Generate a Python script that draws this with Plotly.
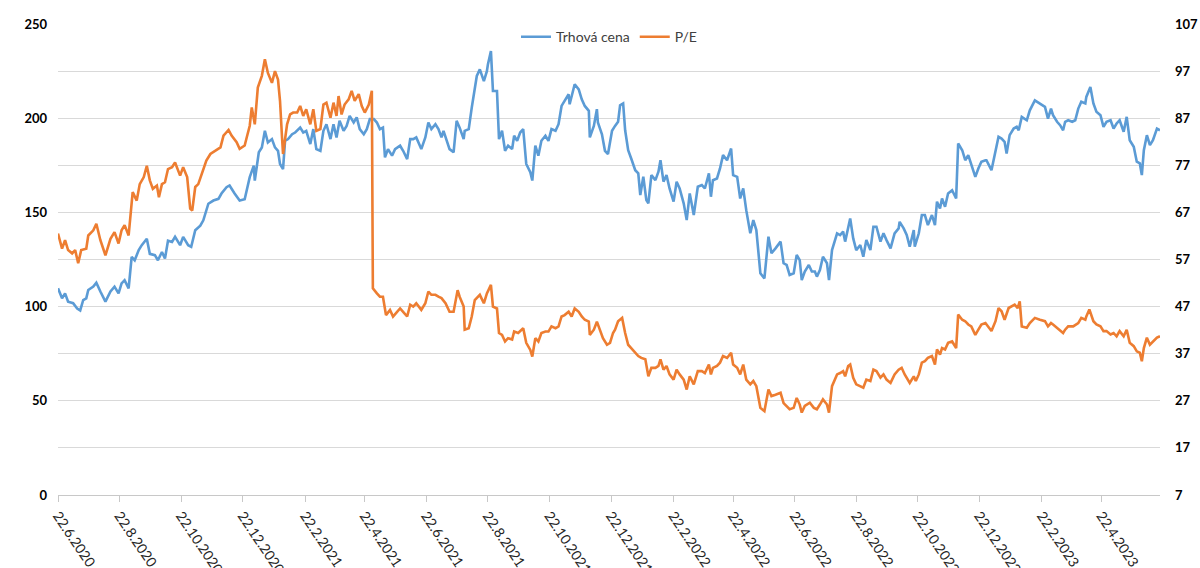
import pandas as pd
import plotly.graph_objects as go

START = pd.Timestamp("2020-06-22")

# Trhová cena (left axis): days since 22.6.2020 and values
price_day = [0,4,7,10,15,19,22,25,28,30,35,38,42,47,52,56,60,63,66,70,73,76,80,83,88,91,96,99,103,106,
             109,113,116,121,124,129,132,136,141,144,149,154,159,162,167,170,175,180,185,
             187,190,194,195,199,202,205,208,212,215,218,220,223,225,228,232,235,240,243,246,250,253,256,260,263,266,
             270,273,276,279,283,286,289,293,296,299,303,306,309,313,316,319,322,324,327,331,334,339,342,346,349,352,
             355,360,364,367,
             370,374,377,380,382,385,388,392,395,398,402,403,407,410,413,415,418,420,422,425,426,429,431,435,437,440,
             443,446,450,452,455,458,461,464,468,470,473,476,479,483,486,489,493,496,499,502,506,507,511,512,516,519,
             522,526,527,531,534,535,539,542,545,549,552,
             555,557,560,562,565,568,572,575,577,580,583,585,588,592,595,597,600,603,606,610,613,616,620,623,626,630,
             634,638,641,645,647,649,653,656,659,663,667,669,673,676,679,682,686,689,692,696,700,704,707,711,716,719,
             722,725,729,732,735,
             737,740,744,747,750,752,755,758,762,764,767,772,775,778,780,783,785,788,791,795,798,801,805,808,811,815,
             818,821,825,829,833,834,838,841,844,848,849,853,856,859,862,866,869,871,874,876,879,882,886,890,892,896,
             899,902,905,909,912,915,919,
             920,925,929,932,935,938,940,943,947,950,952,955,960,963,968,973,978,981,984,986,990,993,996,998,1001,1005,
             1008,1011,1014,1018,1019,1023,1026,1029,1033,1036,1039,1043,1046,1049,1052,1056,1059,1062,1066,1069,1072,
             1074,1076,1079,1082,1085,1089,1092]
price = [109.7,104.4,107,102.6,101.8,99,98,103.5,104.4,108.8,110.6,112.7,108,102.6,108,110.6,107,112.3,114,109.7,
         126.4,124.6,130,132.6,136,128,127.3,124.6,129,125.5,135,134.3,137,132.6,137,132.6,131.7,140.5,143,145.8,
         154.6,156.3,157.2,160,163.4,164.3,160,156.3,157,
         161.6,168.7,174.8,166.9,181.9,184.5,193.3,187.1,188.9,184.5,182.7,175.7,173,188,188.9,191.5,192.4,195,192.4,
         193.3,186.3,194.2,183.6,182.7,193.3,196.8,188.9,196.8,189.8,198.6,193.3,195.9,201.2,197.7,200.4,194.2,191.5,
         194.2,199.5,199.5,197.7,194.2,195,179.2,183.6,180.1,183.6,185.4,182.7,178.3,188.9,188.9,189.8,183.6,189.8,197.7,
         194.2,196.8,194.2,189.8,193.3,188,183.6,181.9,198.6,195,188.9,193.3,194.2,205.6,214.4,222.4,225.9,223.2,219.7,
         225,228.5,235.6,214.4,214.4,188.9,193.3,182.7,185.4,183.6,190.7,188,192.4,194.2,175.7,171.3,166.9,185.4,180.1,
         188,190.7,188,194.2,193.3,196.8,206.5,209.2,212.7,207.4,215.3,218,215.3,210,206.5,203.9,189.8,195.9,204.8,
         197.7,191.5,182.7,181,193.3,195.9,
         198.1,206.9,207.8,193.6,183,178.6,172.4,170.7,159.2,168.9,156.5,154.8,169.8,167.1,171.6,177.7,166.3,169.8,
         162.7,155.7,166.3,162.7,154.8,145.9,160.1,148.6,163.6,164.5,162.7,170.7,158.3,167.1,168,173.3,180.4,177.7,
         183.9,169.8,168.9,157.4,162.7,151.2,138.9,145.9,140.6,117.7,115,137.1,128.3,130.9,134.5,123,122.1,116.8,
         117.7,127.4,124.7,
         114.1,118.6,122.1,118.6,118.6,115.9,119.4,126.5,123,114.1,130,138.9,138,139.8,134.5,141.5,146.8,136.2,130,
         132.7,126.5,135.3,130,142.4,142.4,134.5,138.9,135.3,130.9,138.9,141.5,145,141.5,138,131.8,140.6,131.8,138.9,
         148.6,148.6,143.3,148.6,143.3,155.7,152.1,157.4,153,160.1,161.8,157.4,186.6,183,177.7,180.4,175.1,168.9,
         173.3,176.9,177.7,
         177.7,172.4,183,190.1,189.2,187.5,181.3,191,194.5,195.4,193.6,200.7,198.9,204.2,209.5,207.8,206,199.8,205.1,
         201.6,198.1,196.3,193.6,198.1,198.9,198.1,198.9,205.1,208.7,207.8,211.3,216.6,207.8,203.4,201.6,195.4,198.1,
         198.9,194.5,197.2,198.9,192.8,200.7,188.3,184.8,176.9,176,169.8,183,191,185.7,188.3,194.5,193.6]

# P/E (right axis): days since 22.6.2020 and values
pe_day = [0,4,7,10,14,17,20,23,28,30,35,38,42,47,52,56,60,63,66,70,74,78,81,85,88,91,94,98,100,103,
          106,109,113,116,121,124,128,131,133,136,139,142,147,151,156,161,164,169,172,177,180,185,
          187,190,192,195,198,202,205,208,212,215,218,220,222,223,227,230,233,237,240,243,246,250,253,256,260,263,
          266,270,273,276,278,281,284,288,291,294,298,301,304,308,311,312,316,319,322,325,329,332,336,339,342,346,
          349,352,355,360,364,367,
          370,374,377,380,384,388,392,396,398,402,403,407,410,413,418,422,425,429,431,435,437,440,443,446,450,452,
          456,461,464,468,470,473,476,479,483,486,489,493,496,499,502,506,509,512,516,519,522,526,527,531,534,537,
          540,544,547,550,552,
          555,559,562,565,568,572,575,578,582,585,588,592,595,597,600,603,606,610,613,616,620,623,626,630,634,638,
          641,645,647,649,653,656,659,663,667,669,673,676,679,682,686,689,692,696,700,704,707,711,716,719,722,725,
          729,732,735,
          737,740,745,749,752,755,758,762,764,767,772,775,778,780,783,785,788,791,795,798,801,805,808,811,815,818,
          821,825,829,833,836,839,844,848,850,853,856,859,862,866,869,871,874,876,879,882,886,890,892,896,899,902,
          905,909,912,915,919,
          920,925,929,932,935,938,942,945,948,951,953,955,960,963,968,973,978,981,984,986,990,993,996,998,1001,1006,
          1011,1014,1018,1019,1022,1026,1029,1033,1036,1039,1043,1046,1049,1052,1056,1059,1062,1066,1069,1072,1074,
          1076,1079,1082,1085,1089,1092]
pe = [62.5,59.3,61.1,59,58.3,59,56.2,59,59.3,62.1,63.2,64.6,61.1,57.9,61.4,62.8,60.4,63.2,64.3,62.1,
      71.3,69.5,73,74.5,76.9,73.8,72,72.7,70.2,73,73.4,76.2,76.6,77.6,74.8,76.6,74.5,67.8,67.4,72.4,
      73,74.8,78,79.4,80.1,80.8,83.3,84.5,83.3,81.9,80.5,81.2,
      82.9,85.4,89.3,85.7,93.5,96,99.5,96.6,94.5,97,95.2,90.7,82.9,79.4,85.7,87.8,88.2,88.2,89.6,87.5,
      88.9,85.7,88.9,84.3,84.7,89.9,90.3,87.1,90.3,87.5,91.7,87.8,89.9,91,92.8,90.7,92.1,89.6,88.2,89.9,
      92.8,50.9,49.8,49.1,49.1,45.2,46.3,44.9,45.9,46.6,45.9,44.9,47.4,47,47.7,46.3,47.7,50.2,
      49.5,49.5,49.1,48.8,47.7,45.9,45.9,50.5,49.1,47,42.1,42.4,44.9,48.4,49.5,47.7,49.8,51.6,47,46.6,
      41.4,41,39.6,40.3,40,41.7,41.4,42.4,39.3,37.8,36.4,40.3,39.6,41.4,41.7,41.7,42.8,42.4,42.8,44.9,
      45.2,45.9,44.9,46.6,45.9,44.9,44.2,43.8,41,42.1,43.8,42.1,40.3,38.9,39.3,41.4,42.1,
      43.9,44.6,41.4,38.9,38.2,37.1,36.5,36.1,35.8,32.2,34,34,34.4,35.8,33.6,34.4,32.6,31.5,33.6,32.6,
      31.5,29.4,32.2,30.5,33.3,33.3,32.9,34.7,32.6,34,34.4,35.1,36.5,36.1,37.2,34.7,34,32.6,34.7,31.5,
      30.5,31.2,30.1,25.5,24.8,29.4,28,28.3,28.7,26.5,25.9,25.2,25.5,27.6,26.2,
      24.5,25.9,26.6,25.5,25.2,26.2,27.3,26.2,24.5,30.1,32.6,32.9,33.3,32.2,34.4,34.7,31.9,30.5,30.1,29.8,
      31.5,31.2,33.6,33.3,31.9,32.6,31.5,30.8,32.6,33.6,34,32.6,30.8,32.2,31.2,32.6,35.1,35.4,36.1,36.5,
      34.7,37.9,36.8,38.2,37.9,39.3,39.6,38.2,45.3,44.2,43.9,43.2,42.8,41,42.1,43.2,43.5,
      43.2,41.8,43.9,46.7,46,44.2,46.7,47.1,47.4,46.7,48.1,42.8,42.5,43.5,44.6,44.2,43.9,42.8,43.5,43.2,
      42.5,41.8,41.4,42.1,42.8,42.8,43.5,44.6,44.2,44.9,46.4,43.9,43.2,42.8,41.8,41.8,41.1,41.4,40.7,41.8,
      40.7,42.1,39.3,38.6,37.5,37.2,35.4,38.2,40.4,38.9,39.6,40.4,40.7]

assert len(price_day) == len(price), (len(price_day), len(price))
assert len(pe_day) == len(pe), (len(pe_day), len(pe))

x_tick_dates = ["2020-06-22","2020-08-22","2020-10-22","2020-12-22","2021-02-22","2021-04-22",
                "2021-06-22","2021-08-22","2021-10-22","2021-12-22","2022-02-22","2022-04-22",
                "2022-06-22","2022-08-22","2022-10-22","2022-12-22","2023-02-22","2023-04-22"]
x_tick_text = ["22.6.2020","22.8.2020","22.10.2020","22.12.2020","22.2.2021","22.4.2021",
               "22.6.2021","22.8.2021","22.10.2021","22.12.2021","22.2.2022","22.4.2022",
               "22.6.2022","22.8.2022","22.10.2022","22.12.2022","22.2.2023","22.4.2023"]
left_ticks = [0, 50, 100, 150, 200, 250]
left_grid = [25, 50, 75, 100, 125, 150, 175, 200, 225]
right_ticks = [7, 17, 27, 37, 47, 57, 67, 77, 87, 97, 107]

price_dates = START + pd.to_timedelta(price_day, unit="D")
pe_dates = START + pd.to_timedelta(pe_day, unit="D")

fig = go.Figure()
fig.add_trace(go.Scatter(x=price_dates, y=price, name="Trhová cena", mode="lines",
                         line=dict(color="#5B9BD5", width=2.6)))
fig.add_trace(go.Scatter(x=pe_dates, y=pe, name="P/E", mode="lines", yaxis="y2",
                         line=dict(color="#ED7D31", width=2.6)))

fig.update_layout(
    width=1200, height=568,
    margin=dict(l=58, r=40, t=24, b=73),
    paper_bgcolor="white", plot_bgcolor="white",
    showlegend=True,
    legend=dict(orientation="h", x=0.5, xanchor="center", y=0.972, yanchor="middle",
                font=dict(family="Lato", size=14, color="#404040"), bgcolor="rgba(0,0,0,0)",
                itemwidth=30),
    xaxis=dict(type="date", range=[START, START + pd.Timedelta(days=1092)],
               tickvals=x_tick_dates, ticktext=x_tick_text, tickangle=56,
               tickfont=dict(family="Lato", size=14, color="#262626"),
               showgrid=False, showline=True, linecolor="#c8c8c8", linewidth=1,
               ticks="outside", ticklen=6, tickcolor="#c8c8c8", automargin=False, zeroline=False),
    yaxis=dict(range=[0, 250], tickvals=left_ticks, showgrid=False, zeroline=False,
               tickfont=dict(family="Lato", size=13, color="#000000", weight="bold"),
               ticks="", ticklabelstandoff=10,
               minor=dict(tickvals=left_grid, showgrid=True, gridcolor="#d9d9d9", gridwidth=1, ticks=""),
               automargin=False),
    yaxis2=dict(range=[7, 107], tickvals=right_ticks, overlaying="y", side="right", showgrid=False,
                zeroline=False, tickfont=dict(family="Lato", size=13, color="#000000", weight="bold"),
                ticks="", ticklabelstandoff=14, automargin=False),
)

fig.write_html("out.html", config={"displayModeBar": False},
               post_script="document.body.style.margin='0';document.body.style.overflow='hidden';")
